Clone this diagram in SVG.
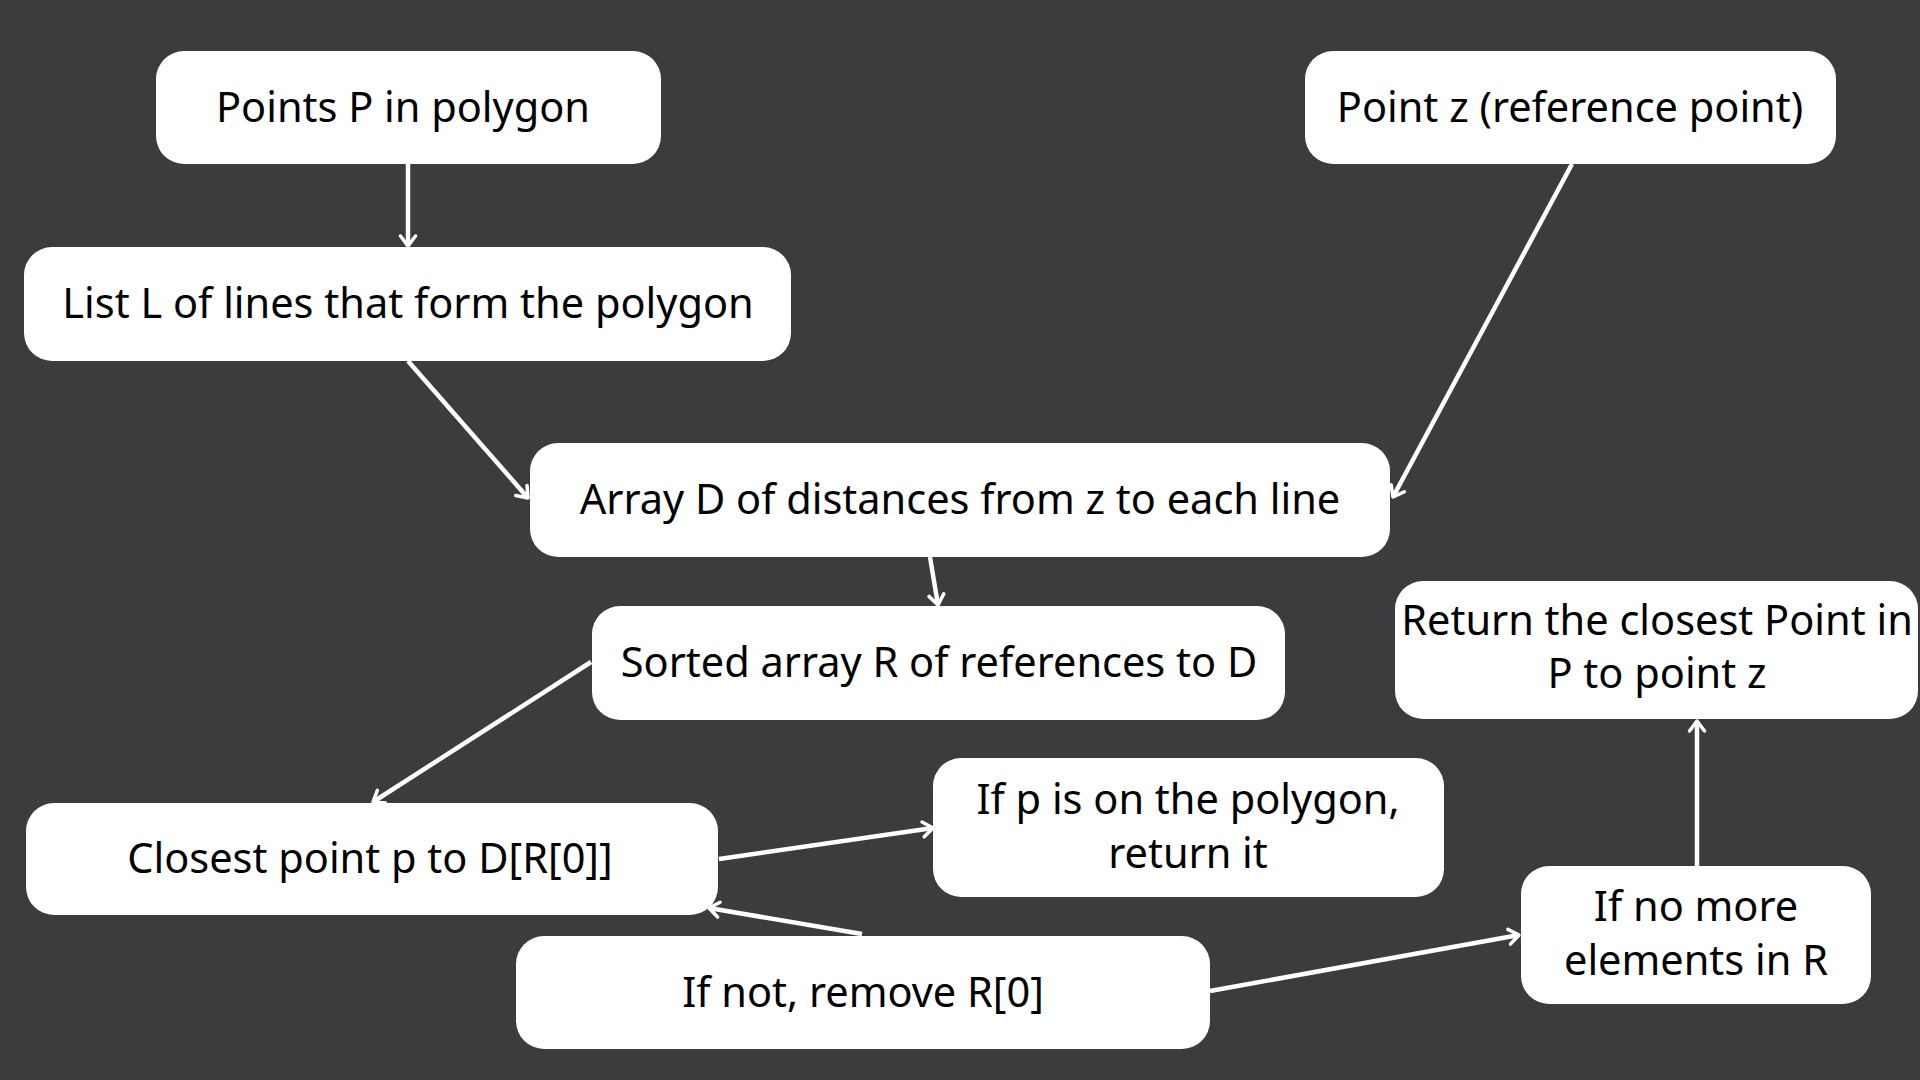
<svg xmlns="http://www.w3.org/2000/svg" width="1920" height="1080" viewBox="0 0 1920 1080">
  <style>
    .node rect { fill: #ffffff; }
    .node text { font-family: "Noto Sans", "Liberation Sans", sans-serif; font-size: 41.5px; fill: #000000; text-anchor: middle; }
    .edge { stroke: #ffffff; stroke-width: 4.5; fill: none; marker-end: url(#arrow); }
  </style>
  <defs>
    <marker id="arrow" viewBox="0 0 20 20" refX="16" refY="10" markerWidth="20" markerHeight="20" markerUnits="userSpaceOnUse" orient="auto">
      <path d="M6,2.5 L16,10 L6,17.5" fill="none" stroke="#ffffff" stroke-width="3.5" stroke-linecap="round" stroke-linejoin="round"/>
    </marker>
  </defs>
  <rect x="0" y="0" width="1920" height="1080" fill="#3b3c3e"/>

  <g id="connectors">
    <line class="edge" x1="408" y1="164" x2="408" y2="246"/>
    <line class="edge" x1="408" y1="361" x2="528" y2="498"/>
    <line class="edge" x1="1572" y1="164" x2="1393" y2="497"/>
    <line class="edge" x1="930" y1="557" x2="938" y2="605"/>
    <line class="edge" x1="591" y1="662" x2="373" y2="802"/>
    <line class="edge" x1="719" y1="859" x2="933" y2="828"/>
    <line class="edge" x1="862" y1="934" x2="709" y2="908"/>
    <line class="edge" x1="1210" y1="991" x2="1519" y2="935"/>
    <line class="edge" x1="1697" y1="866" x2="1697" y2="721"/>
  </g>

  <g id="node-points-p" class="node">
    <rect x="156" y="51" width="505" height="113" rx="28"/>
    <text x="403" y="122">Points P in polygon</text>
  </g>
  <g id="node-point-z" class="node">
    <rect x="1305" y="51" width="531" height="113" rx="28"/>
    <text x="1570" y="122">Point z (reference point)</text>
  </g>
  <g id="node-list-l" class="node">
    <rect x="24" y="247" width="767" height="114" rx="28"/>
    <text x="408" y="318">List L of lines that form the polygon</text>
  </g>
  <g id="node-array-d" class="node">
    <rect x="530" y="443" width="860" height="114" rx="28"/>
    <text x="960" y="514">Array D of distances from z to each line</text>
  </g>
  <g id="node-sorted-r" class="node">
    <rect x="592" y="606" width="693" height="114" rx="28"/>
    <text x="939" y="677">Sorted array R of references to D</text>
  </g>
  <g id="node-return-closest" class="node">
    <rect x="1395" y="581" width="523" height="138" rx="28"/>
    <text x="1657" y="635">Return the closest Point in</text>
    <text x="1657" y="688">P to point z</text>
  </g>
  <g id="node-closest-p" class="node">
    <rect x="26" y="803" width="692" height="112" rx="28"/>
    <text x="370" y="873">Closest point p to D[R[0]]</text>
  </g>
  <g id="node-on-polygon" class="node">
    <rect x="933" y="758" width="511" height="139" rx="28"/>
    <text x="1188" y="814">If p is on the polygon,</text>
    <text x="1188" y="868">return it</text>
  </g>
  <g id="node-no-more" class="node">
    <rect x="1521" y="866" width="350" height="138" rx="28"/>
    <text x="1696" y="921">If no more</text>
    <text x="1696" y="975">elements in R</text>
  </g>
  <g id="node-remove" class="node">
    <rect x="516" y="936" width="694" height="113" rx="28"/>
    <text x="863" y="1007">If not, remove R[0]</text>
  </g>
</svg>
